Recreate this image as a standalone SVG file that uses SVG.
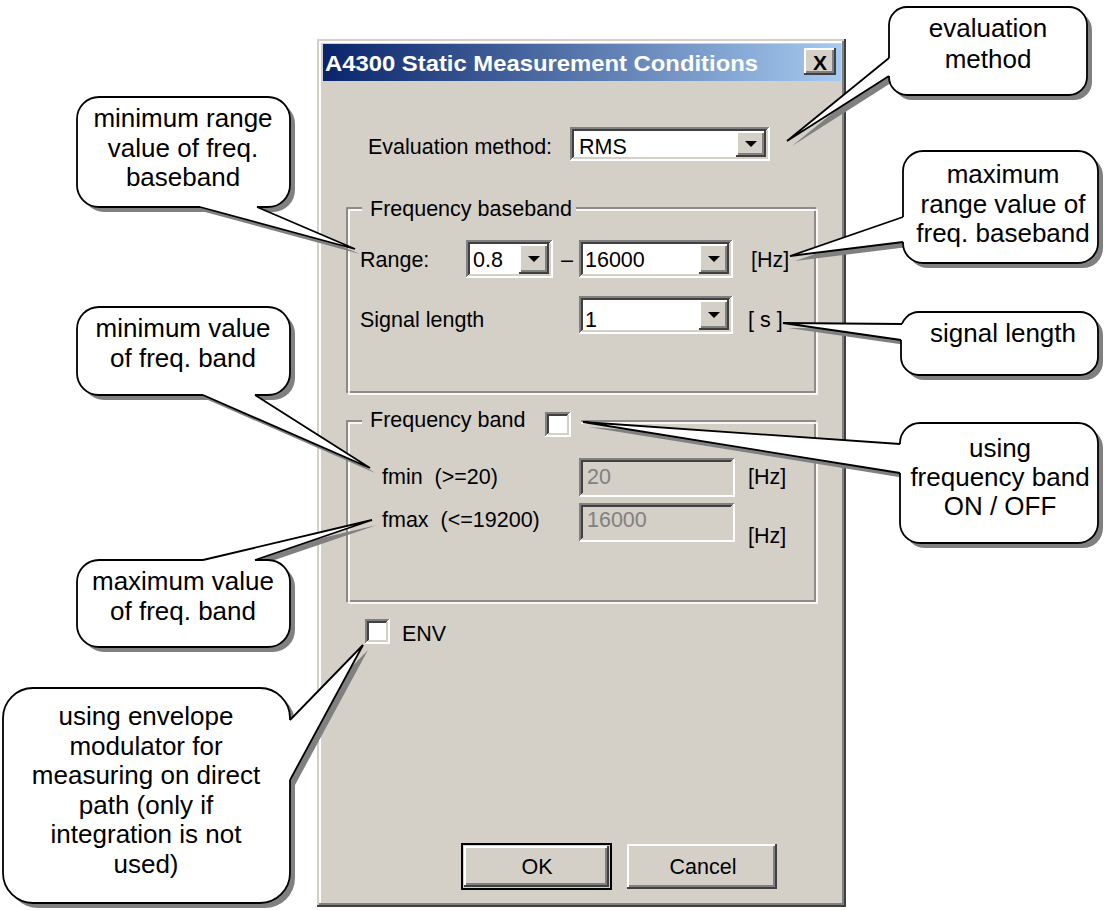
<svg xmlns="http://www.w3.org/2000/svg" width="1104" height="910" viewBox="0 0 1104 910">
<defs>
<linearGradient id="tb" x1="0" y1="0" x2="1" y2="0">
<stop offset="0" stop-color="#0A246A"/>
<stop offset="1" stop-color="#A6CAF0"/>
</linearGradient>
<style>
.ui{font-family:"Liberation Sans",Arial,sans-serif;font-size:21.5px;fill:#000}
.dis{fill:#808080}
.mid{text-anchor:middle}
.co{font-family:"Liberation Sans",Arial,sans-serif;font-size:26px;fill:#000;text-anchor:middle}
.bubble{fill:#fff;stroke:#000;stroke-width:1.8}
.gray{stroke:#808080;stroke-width:2;fill:none}
.white{stroke:#fff;stroke-width:2;fill:none}
.dark{stroke:#404040;stroke-width:2;fill:none}
.face{stroke:#D4D0C8;stroke-width:2;fill:none}
.etch1{stroke:#808080;stroke-width:1.7;fill:none}
.etch2{stroke:#fff;stroke-width:1.7;fill:none}
.bg{fill:#D4D0C8}
.wf{fill:#fff}
.wl{fill:none;stroke:#000;stroke-width:1.8;stroke-linejoin:miter}
</style>
</defs>
<rect width="1104" height="910" fill="#fff"/>

<g id="dialog">
<rect x="317" y="39" width="529" height="868" class="bg"/>
<path d="M318,906 V40 H845" class="face"/>
<path d="M320,904 V42 H843" class="white"/>
<path d="M317,906 H845 V39" class="dark"/>
<path d="M319,904 H843 V41" class="gray"/>
</g>

<g id="titlebar">
<rect x="323" y="44" width="518" height="37" fill="url(#tb)"/>
<text x="325" y="71" font-family="'Liberation Sans',Arial,sans-serif" font-weight="bold" font-size="22" fill="#fff" textLength="433" lengthAdjust="spacingAndGlyphs">A4300 Static Measurement Conditions</text>
</g>

<g id="close-button">
<rect x="804" y="48" width="32" height="27" class="bg"/>
<path d="M805,74 V49 H835" class="white"/>
<path d="M806,72 H833 V50" class="gray"/>
<path d="M804,74 H835 V48" class="dark"/>
<text x="820" y="70" font-family="'Liberation Sans',Arial,sans-serif" font-weight="bold" font-size="21" fill="#000" text-anchor="middle">X</text>
</g>

<g id="evaluation-method">
<text class="ui" x="368" y="154">Evaluation method:</text>
<rect x="570" y="127" width="200" height="34" fill="#fff"/>
<path d="M571,160 V128 H769" class="gray"/>
<path d="M573,158 V130 H767" class="dark"/>
<path d="M571,160 H769 V128" class="white"/>
<path d="M573,158 H767 V130" class="face"/>
<text class="ui" x="579" y="154">RMS</text>
<rect x="736" y="131" width="30" height="26" class="bg"/>
<path d="M737,156 V132 H765" class="white"/>
<path d="M738,154 H763 V133" class="gray"/>
<path d="M736,156 H765 V131" class="dark"/>
<polygon points="745,141 757,141 751,147" fill="#000"/>
</g>

<g id="frequency-baseband">
<rect x="347" y="208" width="468" height="184" class="etch1"/>
<rect x="349" y="210" width="468" height="184" class="etch2"/>
<rect x="362" y="198" width="214" height="20" class="bg"/>
<text class="ui" x="370" y="216">Frequency baseband</text>
<text class="ui" x="360" y="267">Range:</text>
<rect x="466" y="240" width="87" height="38" fill="#fff"/>
<path d="M467,277 V241 H552" class="gray"/>
<path d="M469,275 V243 H550" class="dark"/>
<path d="M467,277 H552 V241" class="white"/>
<path d="M469,275 H550 V243" class="face"/>
<text class="ui" x="473" y="267">0.8</text>
<rect x="519" y="244" width="30" height="30" class="bg"/>
<path d="M520,273 V245 H548" class="white"/>
<path d="M521,271 H546 V246" class="gray"/>
<path d="M519,273 H548 V244" class="dark"/>
<polygon points="528,256 540,256 534,262" fill="#000"/>
<text class="ui" x="561" y="267">–</text>
<rect x="579" y="240" width="154" height="38" fill="#fff"/>
<path d="M580,277 V241 H732" class="gray"/>
<path d="M582,275 V243 H730" class="dark"/>
<path d="M580,277 H732 V241" class="white"/>
<path d="M582,275 H730 V243" class="face"/>
<text class="ui" x="585" y="267">16000</text>
<rect x="699" y="244" width="30" height="30" class="bg"/>
<path d="M700,273 V245 H728" class="white"/>
<path d="M701,271 H726 V246" class="gray"/>
<path d="M699,273 H728 V244" class="dark"/>
<polygon points="708,256 720,256 714,262" fill="#000"/>
<text class="ui" x="751" y="267">[Hz]</text>
<text class="ui" x="360" y="327">Signal length</text>
<rect x="579" y="296" width="154" height="38" fill="#fff"/>
<path d="M580,333 V297 H732" class="gray"/>
<path d="M582,331 V299 H730" class="dark"/>
<path d="M580,333 H732 V297" class="white"/>
<path d="M582,331 H730 V299" class="face"/>
<text class="ui" x="585" y="327">1</text>
<rect x="699" y="300" width="30" height="30" class="bg"/>
<path d="M700,329 V301 H728" class="white"/>
<path d="M701,327 H726 V302" class="gray"/>
<path d="M699,329 H728 V300" class="dark"/>
<polygon points="708,312 720,312 714,318" fill="#000"/>
<text class="ui" x="748" y="327" xml:space="preserve">[ s ]</text>
</g>

<g id="frequency-band">
<rect x="347" y="421" width="468" height="180" class="etch1"/>
<rect x="349" y="423" width="468" height="180" class="etch2"/>
<rect x="362" y="410" width="219" height="20" class="bg"/>
<text class="ui" x="370" y="427">Frequency band</text>
<rect x="545" y="412" width="26" height="25" fill="#fff"/>
<path d="M546,436 V413 H570" class="gray"/>
<path d="M548,434 V415 H568" class="dark"/>
<path d="M546,436 H570 V413" class="white"/>
<path d="M548,434 H568 V415" class="face"/>
<text class="ui" x="382" y="484" xml:space="preserve">fmin  (&gt;=20)</text>
<rect x="579" y="458" width="156" height="39" class="bg"/>
<path d="M580,496 V459 H734" class="gray"/>
<path d="M582,494 V461 H732" class="dark"/>
<path d="M580,496 H734 V459" class="white"/>
<path d="M582,494 H732 V461" class="face"/>
<text class="ui dis" x="587" y="484">20</text>
<text class="ui" x="748" y="484">[Hz]</text>
<text class="ui" x="382" y="527" xml:space="preserve">fmax  (&lt;=19200)</text>
<rect x="579" y="503" width="156" height="39" class="bg"/>
<path d="M580,541 V504 H734" class="gray"/>
<path d="M582,539 V506 H732" class="dark"/>
<path d="M580,541 H734 V504" class="white"/>
<path d="M582,539 H732 V506" class="face"/>
<text class="ui dis" x="587" y="527">16000</text>
<text class="ui" x="748" y="543">[Hz]</text>
</g>

<g id="env-checkbox">
<rect x="365" y="619" width="25" height="25" fill="#fff"/>
<path d="M366,643 V620 H389" class="gray"/>
<path d="M368,641 V622 H387" class="dark"/>
<path d="M366,643 H389 V620" class="white"/>
<path d="M368,641 H387 V622" class="face"/>
<text class="ui" x="402" y="641">ENV</text>
</g>

<g id="ok-button">
<rect x="462" y="844" width="149" height="45" class="bg" stroke="#000" stroke-width="2"/>
<path d="M465,886 V847 H608" class="white"/>
<path d="M466,884 H606 V848" class="gray"/>
<path d="M464,886 H608 V846" class="dark"/>
<text class="ui mid" x="537" y="874">OK</text>
</g>

<g id="cancel-button">
<rect x="627" y="844" width="150" height="45" class="bg"/>
<path d="M628,888 V845 H776" class="white"/>
<path d="M629,886 H774 V846" class="gray"/>
<path d="M627,888 H776 V844" class="dark"/>
<text class="ui mid" x="703" y="874">Cancel</text>
</g>

<g id="shadows" fill="#808080">
<rect x="894" y="12" width="198" height="88" rx="18"/>
<polygon points="894,63 792,146 894,81"/>
<rect x="82" y="102" width="213" height="110" rx="22"/>
<polygon points="205,212 360,254 262,212"/>
<rect x="908" y="156" width="195" height="112" rx="20"/>
<polygon points="908,222 795,261 908,247"/>
<rect x="906" y="317" width="197" height="63" rx="18"/>
<polygon points="907,329 788,328 906,345"/>
<rect x="905" y="428" width="198" height="120" rx="20"/>
<polygon points="905,449 588,427 905,478"/>
<rect x="82" y="312" width="213" height="88" rx="22"/>
<polygon points="208,400 375,473 260,400"/>
<rect x="82" y="565" width="213" height="87" rx="22"/>
<polygon points="208,565 377,525 260,565"/>
<rect x="8" y="693" width="287" height="215" rx="30"/>
<polygon points="295,725 368,650 295,785"/>
</g>

<g id="callout-evaluation-method">
<rect class="bubble" x="889" y="7" width="198" height="88" rx="18"/>
<text class="co" x="988" y="37">evaluation</text>
<text class="co" x="988" y="68">method</text>
</g>

<g id="callout-min-range">
<rect class="bubble" x="77" y="97" width="213" height="110" rx="22"/>
<text class="co" x="183" y="127">minimum range</text>
<text class="co" x="183" y="157">value of freq.</text>
<text class="co" x="183" y="186">baseband</text>
</g>

<g id="callout-max-range">
<rect class="bubble" x="903" y="151" width="195" height="112" rx="20"/>
<text class="co" x="1003" y="183">maximum</text>
<text class="co" x="1003" y="213">range value of</text>
<text class="co" x="1003" y="242">freq. baseband</text>
</g>

<g id="callout-signal-length">
<rect class="bubble" x="901" y="312" width="197" height="63" rx="18"/>
<text class="co" x="1003" y="342">signal length</text>
</g>

<g id="callout-freq-band-onoff">
<rect class="bubble" x="900" y="423" width="198" height="120" rx="20"/>
<text class="co" x="1000" y="457">using</text>
<text class="co" x="1000" y="486">frequency band</text>
<text class="co" x="1000" y="515">ON / OFF</text>
</g>

<g id="callout-min-band">
<rect class="bubble" x="77" y="307" width="213" height="88" rx="22"/>
<text class="co" x="183" y="337">minimum value</text>
<text class="co" x="183" y="367">of freq. band</text>
</g>

<g id="callout-max-band">
<rect class="bubble" x="77" y="560" width="213" height="87" rx="22"/>
<text class="co" x="183" y="590">maximum value</text>
<text class="co" x="183" y="620">of freq. band</text>
</g>

<g id="callout-envelope">
<rect class="bubble" x="3" y="688" width="287" height="215" rx="30"/>
<text class="co" x="146" y="725">using envelope</text>
<text class="co" x="146" y="754.6">modulator for</text>
<text class="co" x="146" y="784.2">measuring on direct</text>
<text class="co" x="146" y="813.8">path (only if</text>
<text class="co" x="146" y="843.4">integration is not</text>
<text class="co" x="146" y="873">used)</text>
</g>

<g id="connectors">
<path class="wf" d="M889,58 L787,141 L889,76 L893,76 L893,58 Z"/>
<path class="wl" d="M889,58 L787,141 L889,76"/>
<path class="wf" d="M200,207 L355,249 L257,207 L257,203 L200,203 Z"/>
<path class="wl" d="M200,207 L355,249 L257,207"/>
<path class="wf" d="M903,217 L790,256 L903,242 L907,242 L907,217 Z"/>
<path class="wl" d="M903,217 L790,256 L903,242"/>
<path class="wf" d="M902,324 L783,323 L901,340 L906,340 L906,324 Z"/>
<path class="wl" d="M902,324 L783,323 L901,340"/>
<path class="wf" d="M900,444 L583,422 L900,473 L904,473 L904,444 Z"/>
<path class="wl" d="M900,444 L583,422 L900,473"/>
<path class="wf" d="M203,395 L370,468 L255,395 L255,391 L203,391 Z"/>
<path class="wl" d="M203,395 L370,468 L255,395"/>
<path class="wf" d="M203,560 L372,520 L255,560 L255,564 L203,564 Z"/>
<path class="wl" d="M203,560 L372,520 L255,560"/>
<path class="wf" d="M290,720 L363,645 L290,780 L286,780 L286,720 Z"/>
<path class="wl" d="M290,720 L363,645 L290,780"/>
</g>
</svg>
